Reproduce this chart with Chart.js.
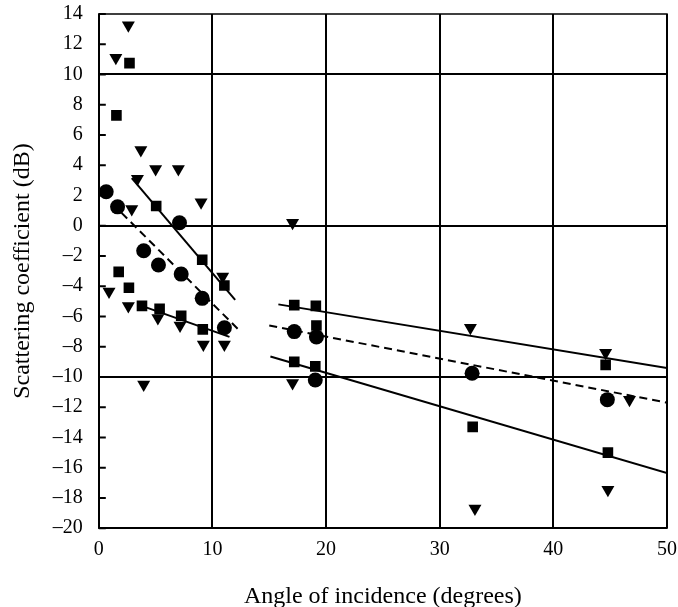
<!DOCTYPE html>
<html>
<head>
<meta charset="utf-8">
<script src="https://cdn.jsdelivr.net/npm/chart.js@4/dist/chart.umd.min.js"></script>
<style>
  html, body { margin: 0; padding: 0; background: #fff; }
  #wrap { width: 678px; height: 607px; }
</style>
</head>
<body>
<div id="wrap"><canvas id="chart"></canvas></div>
<script>
// measured points: [angle, dB]
var triangles = [
	[2.6, 13.25], [1.5, 11.1], [3.7, 5.0], [5.0, 3.75], [7.0, 3.75], [3.4, 3.1],
	[2.9, 1.1], [9.0, 1.55], [10.9, -3.35], [0.9, -4.35], [2.6, -5.3], [5.2, -6.1],
	[7.15, -6.6], [9.2, -7.85], [11.05, -7.85], [3.95, -10.5],
	[17.05, 0.2], [17.05, -10.4], [32.7, -6.75], [33.1, -18.7],
	[44.6, -8.4], [46.7, -11.5], [44.8, -17.45]
];
var squares = [
	[2.7, 10.75], [1.55, 7.3], [5.05, 1.3], [9.1, -2.25], [1.75, -3.05], [11.05, -3.95],
	[2.65, -4.1], [3.8, -5.3], [5.35, -5.5], [7.25, -5.95], [9.15, -6.85],
	[17.2, -5.25], [19.1, -5.3], [19.15, -6.6], [17.2, -9.0], [19.05, -9.3],
	[32.9, -13.3], [44.6, -9.2], [44.8, -15.0]
];
var circles = [
	[0.65, 2.25], [1.65, 1.25], [7.1, 0.2], [3.95, -1.65], [5.25, -2.6], [7.25, -3.2],
	[9.1, -4.8], [11.05, -6.75],
	[17.2, -7.0], [19.15, -7.35], [19.05, -10.2], [32.85, -9.75], [44.75, -11.5]
];
// fitted lines: [x1, y1, x2, y2]
var solidLines = [
	[2.9, 3.15, 12.0, -4.9],
	[3.6, -5.25, 11.5, -7.35],
	[15.8, -5.2, 50, -9.4],
	[15.1, -8.65, 50, -16.35]
];
var dashedLines = [
	[2.0, 0.85, 12.4, -6.95],
	[15.0, -6.6, 50, -11.7]
];
var xTicks = [0, 10, 20, 30, 40, 50];
var yMin = -20, yMax = 14, yStep = 2;

function pts(arr) {
	return arr.map(function (p) { return {x: p[0], y: p[1]}; });
}
function seg(s) {
	return [{x: s[0], y: s[1]}, {x: s[2], y: s[3]}];
}

var datasets = [];
solidLines.forEach(function (s) {
	datasets.push({data: seg(s), showLine: true, borderColor: '#000', borderWidth: 2,
		pointRadius: 0, fill: false});
});
dashedLines.forEach(function (s) {
	datasets.push({data: seg(s), showLine: true, borderColor: '#000', borderWidth: 2,
		borderDash: [8, 5], pointRadius: 0, fill: false});
});
datasets.push({data: pts(triangles), pointStyle: 'triangle', rotation: 180, pointRadius: 7.5,
	backgroundColor: '#000', borderColor: '#000', borderWidth: 0});
datasets.push({data: pts(squares), pointStyle: 'rect', pointRadius: 7.5,
	backgroundColor: '#000', borderColor: '#000', borderWidth: 0});
datasets.push({data: pts(circles), pointStyle: 'circle', pointRadius: 7.5,
	backgroundColor: '#000', borderColor: '#000', borderWidth: 0});

function fmt(v) {
	return v < 0 ? '\u2013' + Math.abs(v) : String(v);
}

// frame around the plot plus inward y tick marks
var framePlugin = {
	id: 'frame',
	afterDraw: function (chart) {
		var ctx = chart.ctx, a = chart.chartArea, ys = chart.scales.y;
		ctx.save();
		ctx.strokeStyle = '#000';
		ctx.lineWidth = 1.5;
		ctx.strokeRect(a.left, a.top, a.right - a.left, a.bottom - a.top);
		ctx.lineWidth = 2;
		ctx.beginPath();
		for (var v = yMin; v <= yMax; v += yStep) {
			var py = ys.getPixelForValue(v);
			ctx.moveTo(a.left, py);
			ctx.lineTo(a.left + 7, py);
		}
		ctx.stroke();
		ctx.restore();
	}
};

var serif = "'Liberation Serif', 'DejaVu Serif', serif";
new Chart(document.getElementById('chart'), {
	type: 'scatter',
	data: {datasets: datasets},
	plugins: [framePlugin],
	options: {
		responsive: true,
		maintainAspectRatio: false,
		animation: false,
		layout: {padding: {left: 1, right: 0, top: 0, bottom: -4}},
		plugins: {legend: {display: false}, tooltip: {enabled: false}},
		scales: {
			x: {
				min: 0, max: 50,
				afterBuildTicks: function (axis) {
					axis.ticks = xTicks.map(function (v) { return {value: v}; });
				},
				afterFit: function (axis) {
					axis.paddingLeft = 10;
					axis.paddingRight = 11;
				},
				grid: {color: '#000', lineWidth: 2, drawTicks: false},
				border: {display: false},
				ticks: {color: '#000', font: {family: serif, size: 20}, padding: 10,
					maxRotation: 0, callback: fmt},
				title: {display: true, text: 'Angle of incidence (degrees)', color: '#000',
					font: {family: serif, size: 24}, padding: {top: 10, bottom: 0}}
			},
			y: {
				min: yMin, max: yMax,
				afterFit: function (axis) {
					axis.paddingTop = 14;
					axis.paddingBottom = 12;
				},
				ticks: {stepSize: yStep, color: '#000', font: {family: serif, size: 20},
					padding: 16, callback: fmt},
				grid: {
					drawTicks: false,
					lineWidth: 2,
					color: function (c) {
						return (c.tick && c.tick.value % 10 === 0) ? '#000' : 'rgba(0,0,0,0)';
					}
				},
				border: {display: false},
				title: {display: true, text: 'Scattering coefficient (dB)', color: '#000',
					font: {family: serif, size: 24}, padding: {top: 7, bottom: 0}}
			}
		}
	}
});
</script>
</body>
</html>
